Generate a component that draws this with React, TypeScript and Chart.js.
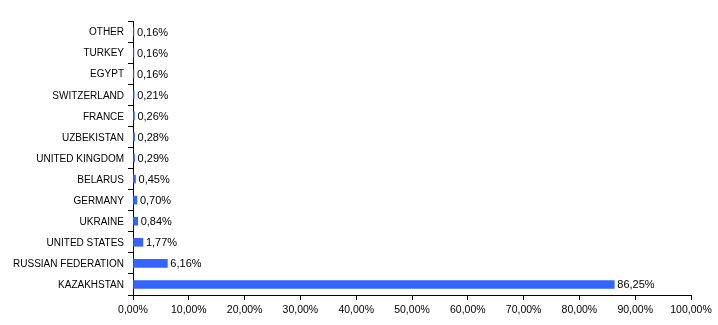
import React, { useEffect, useRef } from "react";
import { Chart, registerables } from "chart.js";

Chart.register(...registerables);

const categories = [
  "OTHER",
  "TURKEY",
  "EGYPT",
  "SWITZERLAND",
  "FRANCE",
  "UZBEKISTAN",
  "UNITED KINGDOM",
  "BELARUS",
  "GERMANY",
  "UKRAINE",
  "UNITED STATES",
  "RUSSIAN FEDERATION",
  "KAZAKHSTAN",
];
const shares = [0.16, 0.16, 0.16, 0.21, 0.26, 0.28, 0.29, 0.45, 0.7, 0.84, 1.77, 6.16, 86.25];
const xMin = 0;
const xMax = 100;
const xStep = 10;

const fmt = (v: number) => v.toFixed(2).replace(".", ",") + "%";
const FONT = "'Liberation Sans', Arial, sans-serif";

const labelsPlugin = {
  id: "labelsPlugin",
  afterDatasetsDraw(chart: any) {
    const ctx = chart.ctx;
    const meta = chart.getDatasetMeta(0);
    const yScale = chart.scales.y;
    ctx.save();
    ctx.fillStyle = "#000";
    ctx.textBaseline = "middle";
    // category labels
    ctx.font = `10px ${FONT}`;
    ctx.textAlign = "right";
    categories.forEach((c, i) => {
      ctx.fillText(c, yScale.right - 9, yScale.getPixelForTick(i) + 1);
    });
    // value labels
    ctx.font = `11px ${FONT}`;
    ctx.textAlign = "left";
    meta.data.forEach((bar: any, i: number) => {
      ctx.fillText(fmt(shares[i]), bar.x + 3, bar.y + 1);
    });
    ctx.restore();
  },
};

export default function App() {
  const ref = useRef<HTMLCanvasElement>(null);
  useEffect(() => {
    if (!ref.current) return;
    const chart = new Chart(ref.current, {
      type: "bar",
      data: {
        labels: categories,
        datasets: [
          {
            data: shares,
            backgroundColor: "#3366ff",
            borderWidth: 0,
            barThickness: 8,
          },
        ],
      },
      options: {
        indexAxis: "y",
        animation: false,
        responsive: false,
        maintainAspectRatio: false,
        layout: { padding: { top: 21, right: 27, left: 0, bottom: 0 } },
        plugins: { legend: { display: false }, tooltip: { enabled: false } },
        scales: {
          x: {
            min: xMin,
            max: xMax,
            ticks: {
              stepSize: xStep,
              color: "#000",
              font: { family: FONT, size: 10.5 },
              padding: 4,
              maxRotation: 0,
              callback: (v: any) => fmt(Number(v)),
            },
            grid: {
              drawOnChartArea: false,
              drawTicks: true,
              tickLength: 5,
              color: "#000",
            },
            border: { color: "#000", width: 1 },
            afterFit: (s: any) => {
              s.height = 30;
            },
          },
          y: {
            ticks: {
              display: false,
            },
            grid: {
              offset: true,
              drawOnChartArea: false,
              drawTicks: true,
              tickLength: 5,
              color: "#000",
            },
            border: { color: "#000", width: 1 },
            afterFit: (s: any) => {
              s.width = 133;
            },
          },
        },
      },
      plugins: [labelsPlugin],
    });
    return () => chart.destroy();
  }, []);
  return (
    <div style={{ position: "absolute", left: 0, top: 0, width: 718, height: 325, background: "#fff" }}>
      <canvas ref={ref} width={718} height={325} style={{ display: "block" }} />
    </div>
  );
}
